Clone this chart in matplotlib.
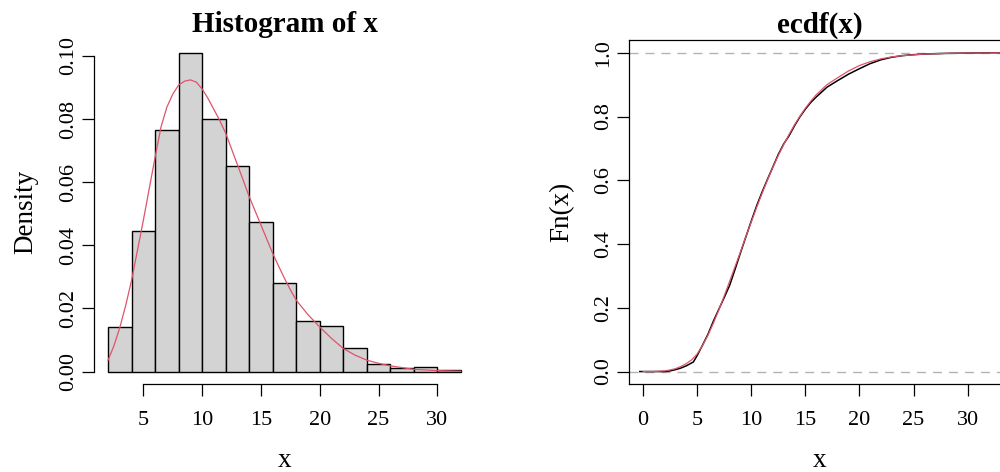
import matplotlib
matplotlib.use("Agg")
import matplotlib.pyplot as plt

plt.rcParams['font.family'] = ['Liberation Serif', 'DejaVu Serif']

# ---------------- data ----------------
bin_edges = [2, 4, 6, 8, 10, 12, 14, 16, 18, 20, 22, 24, 26, 28, 30, 32]
densities = [0.014, 0.0445, 0.0765, 0.101, 0.080, 0.065, 0.0475, 0.028,
             0.016, 0.0145, 0.0075, 0.0025, 0.001, 0.0015, 0.0005]

dens_x = [2, 2.5, 3, 3.5, 4, 4.5, 5, 5.5, 6, 6.5, 7, 7.5, 8, 8.5, 9, 9.5,
          10, 10.5, 11, 11.5, 12, 12.5, 13, 13.5, 14, 14.5, 15, 15.5, 16,
          16.5, 17, 17.5, 18, 19, 20, 21, 22, 23, 24, 25, 26, 28, 30, 32]
dens_y = [0.0036, 0.0082, 0.014, 0.021, 0.029, 0.0385, 0.048, 0.058, 0.068,
          0.0775, 0.0838, 0.0879, 0.0908, 0.0920, 0.0924, 0.0917, 0.0895,
          0.0865, 0.0830, 0.0795, 0.0755, 0.0705, 0.0655, 0.0605, 0.0554,
          0.0509, 0.0464, 0.0419, 0.0374, 0.0334, 0.0295, 0.0259, 0.0226,
          0.0180, 0.0141, 0.0105, 0.0073, 0.0052, 0.0036, 0.0026, 0.0018,
          0.0007, 0.0003, 0.0001]

ecdf_x = [-0.3, 2, 2.5, 3, 3.5, 4, 4.65, 5, 5.5, 6, 6.5, 7, 7.5, 8, 8.5, 9,
          9.5, 10, 10.5, 11, 11.5, 12, 12.5, 13, 13.5, 14, 14.5, 15, 15.5,
          16, 17, 18, 19, 20, 21, 22, 23, 24, 25, 26, 28, 30, 32, 34]
ecdf_y = [0.0, 0.0, 0.002, 0.006, 0.011, 0.018, 0.030, 0.050, 0.083, 0.117,
          0.158, 0.195, 0.232, 0.270, 0.320, 0.372, 0.422, 0.472, 0.520,
          0.563, 0.603, 0.642, 0.681, 0.714, 0.740, 0.771, 0.799, 0.823,
          0.844, 0.861, 0.892, 0.913, 0.933, 0.950, 0.966, 0.978, 0.986,
          0.991, 0.994, 0.996, 0.998, 0.999, 1.0, 1.0]

cdf_x = [0, 1, 2, 2.5, 3, 3.5, 4, 4.5, 5, 5.5, 6, 6.5, 7, 7.5, 8, 8.5, 9,
         9.5, 10, 10.5, 11, 11.5, 12, 12.5, 13, 13.5, 14, 14.5, 15, 15.5,
         16, 17, 18, 19, 20, 21, 22, 23, 24, 26, 28, 30, 34]
cdf_y = [0.0, 0.0003, 0.002, 0.005, 0.009, 0.016, 0.025, 0.037, 0.055,
         0.082, 0.114, 0.152, 0.193, 0.237, 0.283, 0.329, 0.375, 0.423,
         0.469, 0.515, 0.559, 0.601, 0.641, 0.678, 0.712, 0.744, 0.774,
         0.801, 0.826, 0.848, 0.868, 0.900, 0.922, 0.943, 0.960, 0.972,
         0.981, 0.987, 0.991, 0.996, 0.998, 0.999, 1.0]

hist_xticks = [5, 10, 15, 20, 25, 30]
hist_yticks = [0.00, 0.02, 0.04, 0.06, 0.08, 0.10]
ecdf_xticks = [0, 5, 10, 15, 20, 25, 30]
ecdf_yticks = [0.0, 0.2, 0.4, 0.6, 0.8, 1.0]

RED = '#DF536B'
W, H = 1000, 472

fig = plt.figure(figsize=(W / 100, H / 100), dpi=100)

def rect(l, r, t, b):
    return [l / W, (H - b) / H, (r - l) / W, (b - t) / H]

ax1 = fig.add_axes(rect(94.0, 475.0, 40.0, 384.3))
ax2 = fig.add_axes(rect(629.3, 1010.7, 40.0, 384.3))

# ---------------- histogram ----------------
widths = [bin_edges[i + 1] - bin_edges[i] for i in range(len(densities))]
ax1.bar(bin_edges[:-1], densities, width=widths, align='edge',
        color='#D3D3D3', edgecolor='black', linewidth=1.0, zorder=2)
ax1.plot(dens_x, dens_y, color=RED, linewidth=0.9, zorder=3)
ax1.set_xlim(0.8, 33.2)
ax1.set_ylim(-0.00404, 0.10504)
for s in ['top', 'right']:
    ax1.spines[s].set_visible(False)
ax1.spines['left'].set_bounds(0, 0.10)
ax1.spines['bottom'].set_bounds(5, 30)
ax1.set_xticks(hist_xticks, [str(v) for v in hist_xticks])
ax1.set_yticks(hist_yticks, ['%.2f' % v for v in hist_yticks],
               rotation=90, va='center')

# ---------------- ecdf ----------------
ax2.axhline(0, color='#B3B3B3', linestyle=(0, (6.5, 5)), linewidth=1.0, zorder=1)
ax2.axhline(1, color='#B3B3B3', linestyle=(0, (6.5, 5)), linewidth=1.0, zorder=1)
ax2.plot(ecdf_x, ecdf_y, color='black', linewidth=1.1, zorder=2)
ax2.plot(cdf_x, cdf_y, color=RED, linewidth=0.9, zorder=3)
ax2.set_xlim(-1.27, 33.98)
ax2.set_ylim(-0.04, 1.04)
ax2.set_xticks(ecdf_xticks, [str(v) for v in ecdf_xticks])
ax2.set_yticks(ecdf_yticks, ['%.1f' % v for v in ecdf_yticks],
               rotation=90, va='center')

for ax in (ax1, ax2):
    for s in ax.spines.values():
        s.set_linewidth(0.9)
    ax.tick_params(axis='both', direction='out', length=8.6, width=0.9,
                   labelsize=16)
    ax.tick_params(axis='x', pad=10.5)
    ax.tick_params(axis='y', pad=3)
    ax.set_facecolor('white')

# ---------------- titles and labels ----------------
def ft(xp, yp, s, **kw):
    fig.text(xp / W, 1 - yp / H, s, **kw)

ft(284.5, 32.3, 'Histogram of x', ha='center', va='baseline',
   fontsize=21, fontweight='bold')
ft(820.0, 32.3, 'ecdf(x)', ha='center', va='baseline',
   fontsize=21, fontweight='bold')
ft(284.5, 467.3, 'x', ha='center', va='baseline', fontsize=19.5)
ft(820.0, 467.3, 'x', ha='center', va='baseline', fontsize=19.5)
ft(32.7, 212.0, 'Density', ha='center', va='baseline', rotation=90,
   rotation_mode='anchor', fontsize=19.5)
ft(568.0, 212.0, 'Fn(x)', ha='center', va='baseline', rotation=90,
   rotation_mode='anchor', fontsize=19.5)

fig.savefig('out.png', dpi=100, facecolor='white')
